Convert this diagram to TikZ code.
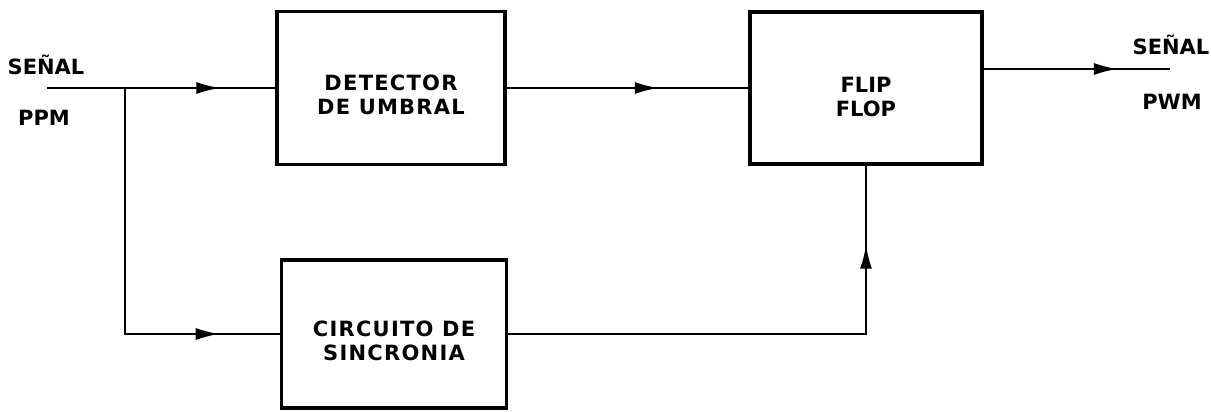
\documentclass[tikz,border=0pt]{standalone}
\usepackage{fontspec}
\newfontfamily\rotulo{DejaVu Sans}
\newfontfamily\rotuloancho[LetterSpace=6]{DejaVu Sans}
\usetikzlibrary{arrows.meta,decorations.markings}
\newcommand{\sube}{\rule{0pt}{29pt}}
\tikzset{
    bloque/.style={draw, line width=3.5pt, align=center,
        font=\rotuloancho\bfseries\fontsize{21}{24}\selectfont},
    senal/.style={font=\rotulo\bfseries\fontsize{21}{24}\selectfont},
    flecha/.style={line width=2.4pt, postaction={decorate},
        decoration={markings, mark=at position #1 with {\arrow{Latex[length=24pt,width=12pt]}}}},
}
\begin{document}
\begin{tikzpicture}[x=1pt,y=-1pt]
        \useasboundingbox (0,0) rectangle (1211,412);
        % blocks
            \node[bloque, minimum width=228pt, minimum height=153pt] (det) at (391,88) {\sube DETECTOR\\DE UMBRAL};
            \node[bloque, minimum width=225pt, minimum height=148pt] (sinc) at (394,334) {\sube CIRCUITO DE\\SINCRONIA};
            \node[bloque, minimum width=232pt, minimum height=152pt, font=\rotulo\bfseries\fontsize{21}{24}\selectfont] (ff) at (866,88) {\rule{0pt}{33pt}FLIP\\FLOP};
        % signals
            \foreach \n/\x/\y/\t in {sa/46/65/SEÑAL,ppm/44/118/PPM,sb/1171/45/SEÑAL,pwm/1172/102/PWM}{
                \node[senal] (\n) at (\x,\y) {\t};
            }
            \coordinate (in) at (47,88);
            \coordinate (br) at (125,88);
            \coordinate (out) at (1170,69);
        % connections
            \draw[flecha=0.76] (in) -- (det);
            \draw[flecha=0.85] (br) |- (sinc);
            \draw[flecha=0.63] (det) -- (ff);
            \draw[flecha=0.85] (sinc) -| (ff);
            \draw[flecha=0.72] (ff.east |- out) -- (out);
        \end{tikzpicture}
\end{document}
